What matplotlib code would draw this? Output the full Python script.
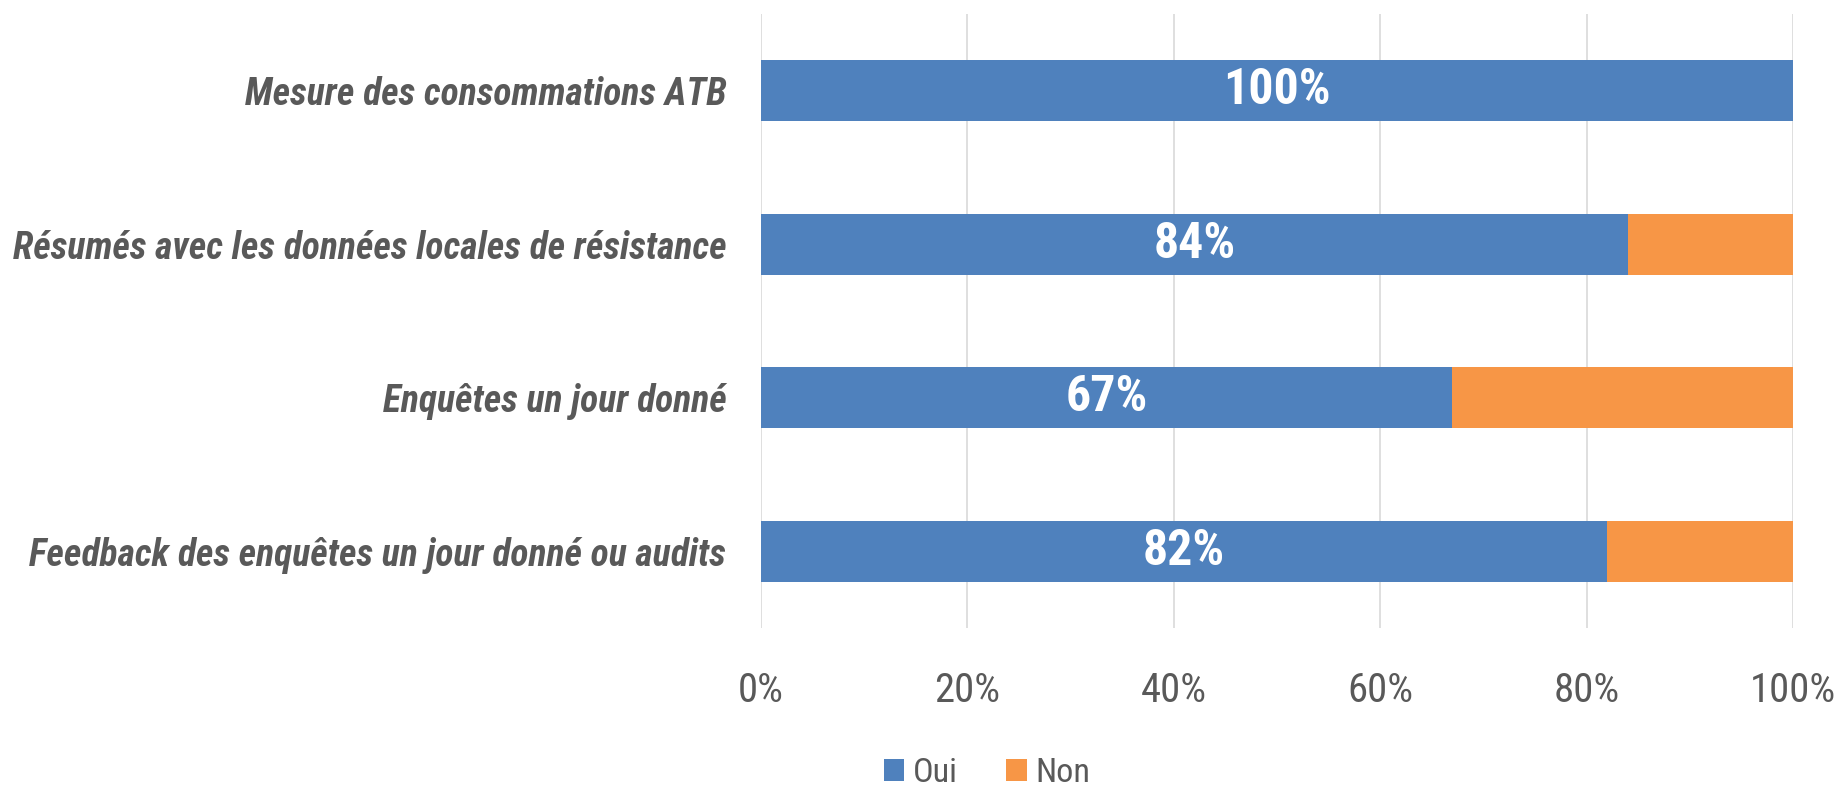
import matplotlib.pyplot as plt
from matplotlib import font_manager
from matplotlib.ticker import FuncFormatter

# Data
categories = ["Mesure des consommations ATB",
              "Résumés avec les données locales de résistance",
              "Enquêtes un jour donné",
              "Feedback des enquêtes un jour donné ou audits"]
oui = [100, 84, 67, 82]
non = [0, 16, 33, 18]
series_names = ["Oui", "Non"]

blue = "#4f81bd"
orange = "#f79646"
grey = "#595959"

# pick a narrow family (Arial Narrow look) that has real bold italic files
fonts = font_manager.fontManager.ttflist
prefs = ["Liberation Sans Narrow", "Roboto Condensed", "Open Sans Condensed",
         "Noto Sans Condensed", "Arimo Narrow", "Barlow Semi Condensed",
         "Asap Condensed", "Barlow Condensed"]


def has(name, style, bold):
    for f in fonts:
        if f.name == name and f.style == style and (f.weight >= 700 if bold else f.weight == 400):
            return True
    return False


bold_fam = None
for p in prefs:
    if has(p, "italic", True) and has(p, "normal", True):
        bold_fam = p
        break
if bold_fam is None:
    bold_fam = "DejaVu Sans"
reg_fam = bold_fam if has(bold_fam, "normal", False) else "Archivo Narrow"

plt.rcParams['font.family'] = [reg_fam, "DejaVu Sans"]

fig = plt.figure(figsize=(18.41, 7.88), dpi=100)
ax = fig.add_axes([761 / 1841, 1 - 628 / 788, 1032 / 1841, 614 / 788])
renderer = fig.canvas.get_renderer()


def fit_size(s, width_px, size, **kw):
    # scale a font size so the string is width_px wide (with an upper cap)
    t = fig.text(0, 0, s, fontsize=size, **kw)
    w = t.get_window_extent(renderer).width
    t.remove()
    return min(size * 1.25, size * width_px / w)


lab_kw = dict(family=[bold_fam, "DejaVu Sans"], fontweight="bold", fontstyle="italic")
val_kw = dict(family=[bold_fam, "DejaVu Sans"], fontweight="bold")
lab_size = fit_size(categories[1], 712, 27, **lab_kw)
tick_size = fit_size("100%", 86, 31)
val_size = fit_size("100%", 108, 34, **val_kw)
leg_size = fit_size("Non", 55, 27)

ypos = range(len(categories))
b1 = ax.barh(ypos, oui, height=0.4, color=blue, label=series_names[0], zorder=3)
b2 = ax.barh(ypos, non, left=oui, height=0.4, color=orange, label=series_names[1], zorder=3)

# Value labels inside the blue bars
for i, v in enumerate(oui):
    ax.text(v / 2, i, f"{v}%", ha="center", va="center", color="white",
            fontsize=val_size, zorder=4, **val_kw)

ax.set_xlim(0, 100)
ax.set_ylim(3.5, -0.5)
ax.set_xticks([0, 20, 40, 60, 80, 100])
ax.xaxis.set_major_formatter(FuncFormatter(lambda x, p: f"{x:.0f}%"))
ax.set_yticks(list(ypos))
ax.set_yticklabels(categories, fontsize=lab_size, color=grey, **lab_kw)
ax.tick_params(axis="x", labelsize=tick_size, labelcolor=grey, length=0, pad=31)
ax.tick_params(axis="y", length=0, pad=25)
ax.grid(axis="x", color="#d9d9d9", linewidth=1.2, zorder=0)
for s in ax.spines.values():
    s.set_visible(False)

leg = fig.legend(handles=[b1, b2], labels=series_names, loc="center",
                 bbox_to_anchor=(987 / 1841, 1 - 773 / 788), ncol=2, frameon=False,
                 fontsize=leg_size, handlelength=0.6, handleheight=0.6, handletextpad=0.25,
                 columnspacing=1.4)
for t in leg.get_texts():
    t.set_color(grey)

fig.savefig("out.png", dpi=100)
